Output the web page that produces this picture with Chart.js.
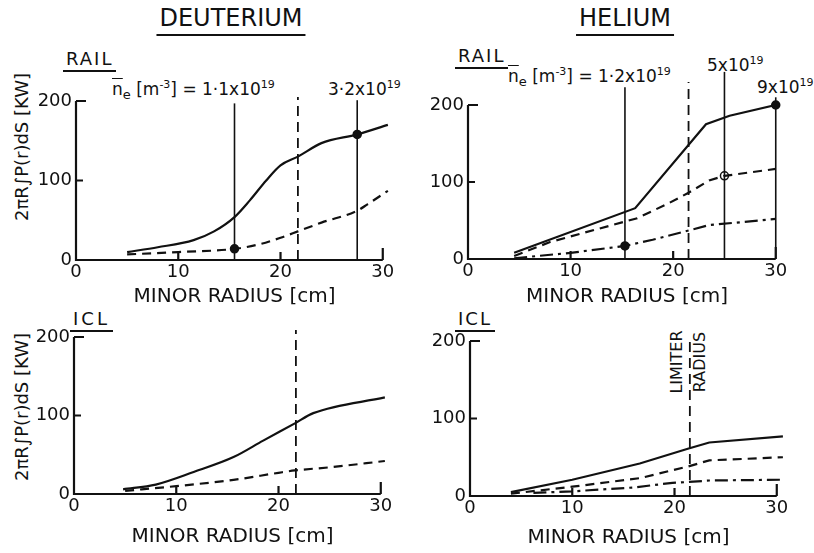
<!DOCTYPE html>
<html>
<head>
<meta charset="utf-8">
<script src="https://cdn.jsdelivr.net/npm/chart.js@4.4.1/dist/chart.umd.min.js"></script>
<style>
    body { margin: 0; background: #fff; }
    #wrap { position: relative; width: 814px; height: 553px; overflow: hidden; font-family: 'DejaVu Sans', sans-serif; color: #111; }
    #wrap canvas { position: absolute; }
    .txt { position: absolute; white-space: nowrap; line-height: 1; }
    .head { font-size: 24px; transform: translateX(-50%); border-bottom: 2px solid #111; padding: 0 3px 4px; }
    .tag { font-size: 18px; border-bottom: 2px solid #111; padding: 0 3px 2px; letter-spacing: 2px; }
    .lab { font-size: 17px; }
    .lab sup { font-size: 11px; vertical-align: 7px; }
    .ov { text-decoration: overline; }
    .ytitle { font-size: 18px; transform: translate(-50%, -50%) rotate(-90deg); }
    .lim { font-size: 16px; transform: translate(-50%, -50%) rotate(-90deg); }
</style>
</head>
<body>
<div id="wrap">
    <div class="txt head" style="left:231px;top:6px">DEUTERIUM</div>
    <div class="txt head" style="left:625px;top:6px">HELIUM</div>

    <div class="txt tag" style="left:63px;top:50px">RAIL</div>
    <div class="txt tag" style="left:455px;top:47px">RAIL</div>
    <div class="txt tag" style="left:70px;top:310px;letter-spacing:3px">ICL</div>
    <div class="txt tag" style="left:455px;top:310px;letter-spacing:2px">ICL</div>

    <div class="txt ytitle" style="left:22px;top:147px">2πR∫P(r)dS [KW]</div>
    <div class="txt ytitle" style="left:22px;top:407px">2πR∫P(r)dS [KW]</div>

    <div class="txt lab" style="left:112px;top:79px"><span class="ov">n</span><sub style="font-size:13px">e</sub> [m<sup>-3</sup>] = 1·1x10<sup>19</sup></div>
    <div class="txt lab" style="left:328px;top:79px">3·2x10<sup>19</sup></div>
    <div class="txt lab" style="left:508px;top:66px"><span class="ov">n</span><sub style="font-size:13px">e</sub> [m<sup>-3</sup>] = 1·2x10<sup>19</sup></div>
    <div class="txt lab" style="left:707px;top:55px">5x10<sup>19</sup></div>
    <div class="txt lab" style="left:757px;top:77px">9x10<sup>19</sup></div>

    <div class="txt lim" style="left:677px;top:362px">LIMITER</div>
    <div class="txt lim" style="left:700px;top:362px">RADIUS</div>

    <canvas id="c1" width="407" height="275" style="left:0;top:40px"></canvas>
    <canvas id="c2" width="414" height="275" style="left:400px;top:40px"></canvas>
    <canvas id="c3" width="407" height="253" style="left:0;top:300px"></canvas>
    <canvas id="c4" width="414" height="253" style="left:400px;top:300px"></canvas>
</div>

<script>
// Axis ticks
const xTicks = [0, 10, 20, 30];
const yTicks = [0, 100, 200];

// Deuterium, rail limiter
const dRailSolidR = [5, 8, 11.5, 13.5, 15.5, 17, 18.6, 20, 21.7, 24, 27.5, 30.5];
const dRailSolidP = [10, 16, 25, 36, 54, 75, 100, 119, 130, 147, 158, 170];
const dRailDashR = [5, 10, 15.5, 18, 20, 21.7, 24, 27.5, 28.5, 30.5];
const dRailDashP = [7, 10, 14, 20, 28, 36, 47, 62, 70, 87];
const dRailMarkR = [15.5, 27.5];
const dRailMarkP = [14, 158];
const dRailLeadTop = [197, 201];

// Helium, rail limiter
const hRailSolidR = [4.5, 16.3, 23.2, 25.5, 30];
const hRailSolidP = [8, 66, 175, 186, 200];
const hRailDashR = [4.5, 8, 16.5, 19.5, 21.5, 23.5, 25, 30];
const hRailDashP = [4, 22, 53, 72, 86, 102, 108, 117];
const hRailDotR = [4.5, 10, 15.3, 18, 21.5, 23.5, 30];
const hRailDotP = [1, 8, 17, 25, 37, 44, 52];
const hRailMarkR = [15.3, 25, 30];
const hRailMarkP = [17, 108, 200];
const hRailMarkOpen = [false, true, false];
const hRailLeadTop = [223, 243, 210];

// Deuterium, inner carbon limiter
const dIclSolidR = [4.8, 8, 11.7, 15.6, 18.5, 21.6, 23.4, 30.4];
const dIclSolidP = [6, 12, 28, 47, 68, 90, 103, 123];
const dIclDashR = [5, 10, 15.6, 20, 21.6, 25, 30.4];
const dIclDashP = [4, 10, 18, 27, 30, 34, 42];

// Helium, inner carbon limiter
const hIclSolidR = [4, 10, 16.6, 21.3, 23.4, 30.6];
const hIclSolidP = [5, 21, 42, 61, 69, 77];
const hIclDashR = [4, 10, 16.6, 21.3, 23.4, 30.6];
const hIclDashP = [3, 12, 23, 38, 46, 50];
const hIclDotR = [6.2, 10, 16, 19.8, 21.3, 23.4, 30.6];
const hIclDotP = [4, 6, 11, 17, 18, 20, 21];

// Limiter radius (vertical dashed line)
const limD = 21.7;
const limH = 21.5;
const limTop = [205, 230, 209, 201];

const ink = '#111';
const tickFont = { family: 'DejaVu Sans', size: 18 };
const titleFont = { family: 'DejaVu Sans', size: 20 };

const pts = (xs, ys) => xs.map((v, i) => ({ x: v, y: ys[i] }));

function curve(xs, ys, style, smooth) {
    const dash = style === 'dash' ? [9, 6] : style === 'dot' ? [13, 5, 3, 5] : [];
    return {
        data: pts(xs, ys),
        borderColor: ink,
        borderWidth: 2.2,
        borderDash: dash,
        pointRadius: 0,
        fill: false,
        cubicInterpolationMode: smooth ? 'monotone' : 'default'
    };
}

function vline(x, top, dash) {
    return {
        data: [{ x: x, y: 0 }, { x: x, y: top }],
        borderColor: ink,
        borderWidth: dash ? 1.8 : 1.6,
        borderDash: dash ? [10, 6] : [],
        pointRadius: 0,
        clip: false
    };
}

function markers(xs, ys, open) {
    return {
        data: pts(xs, ys),
        showLine: false,
        pointRadius: 4,
        pointBorderWidth: 1.5,
        pointBorderColor: ink,
        pointBackgroundColor: xs.map((v, i) => (open && open[i]) ? '#fff' : ink),
        clip: false
    };
}

// Draw axis lines and tick marks the way the original figure does
const axesPlugin = {
    id: 'axes',
    afterDatasetsDraw(chart) {
        const { ctx, scales: { x, y } } = chart;
        const x0 = x.getPixelForValue(xTicks[0]);
        const xEnd = x.getPixelForValue(xTicks[xTicks.length - 1]);
        const y0 = y.getPixelForValue(yTicks[0]);
        const yTop = y.getPixelForValue(yTicks[yTicks.length - 1]);
        ctx.save();
        ctx.strokeStyle = ink;
        ctx.lineWidth = 2.2;
        ctx.beginPath();
        ctx.moveTo(x0, yTop);
        ctx.lineTo(x0, y0);
        ctx.lineTo(xEnd, y0);
        yTicks.slice(1).forEach((v, i) => {
            const p = y.getPixelForValue(v);
            ctx.moveTo(x0, p);
            ctx.lineTo(x0 + (i === yTicks.length - 2 ? 10 : 7), p);
        });
        xTicks.slice(1).forEach((v, i) => {
            const p = x.getPixelForValue(v);
            ctx.moveTo(p, y0);
            ctx.lineTo(p, y0 - (i === xTicks.length - 2 ? 12 : 8));
        });
        ctx.stroke();
        ctx.restore();
    }
};

function makeChart(id, datasets, g) {
    return new Chart(document.getElementById(id), {
        type: 'line',
        data: { datasets: datasets },
        options: {
            responsive: false,
            animation: false,
            devicePixelRatio: 1,
            events: [],
            layout: { padding: { top: g.top, right: g.right, left: 0, bottom: 0 } },
            plugins: { legend: { display: false }, tooltip: { enabled: false } },
            scales: {
                x: {
                    type: 'linear',
                    min: 0,
                    max: 31,
                    afterBuildTicks: s => { s.ticks = xTicks.map(v => ({ value: v })); },
                    afterFit: s => { s.height = g.xh; },
                    grid: { display: false, drawTicks: false },
                    border: { display: false },
                    ticks: { font: tickFont, color: ink, padding: 2, maxRotation: 0, autoSkip: false },
                    title: { display: true, text: 'MINOR RADIUS [cm]', font: titleFont, color: ink, padding: { top: 0, bottom: g.tb } }
                },
                y: {
                    type: 'linear',
                    min: 0,
                    max: 200,
                    afterBuildTicks: s => { s.ticks = yTicks.map(v => ({ value: v })); },
                    afterFit: s => { s.width = g.yw; },
                    grid: { display: false, drawTicks: false },
                    border: { display: false },
                    ticks: { font: tickFont, color: ink, padding: 4 }
                }
            }
        },
        plugins: [axesPlugin]
    });
}

// Top left: deuterium, rail
makeChart('c1', [
    curve(dRailSolidR, dRailSolidP, 'solid', true),
    curve(dRailDashR, dRailDashP, 'dash', true),
    vline(limD, limTop[0], true),
    ...dRailMarkR.map((r, i) => vline(r, dRailLeadTop[i], false)),
    markers(dRailMarkR, dRailMarkP)
], { yw: 76, xh: 55, top: 61, right: 14, tb: 6 });

// Top right: helium, rail
makeChart('c2', [
    curve(hRailSolidR, hRailSolidP, 'solid', false),
    curve(hRailDashR, hRailDashP, 'dash', false),
    curve(hRailDotR, hRailDotP, 'dot', false),
    vline(limH, limTop[1], true),
    ...hRailMarkR.map((r, i) => vline(r, hRailLeadTop[i], false)),
    markers(hRailMarkR, hRailMarkP, hRailMarkOpen)
], { yw: 68, xh: 56, top: 65, right: 28, tb: 6 });

// Bottom left: deuterium, ICL
makeChart('c3', [
    curve(dIclSolidR, dIclSolidP, 'solid', true),
    curve(dIclDashR, dIclDashP, 'dash', true),
    vline(limD, limTop[2], true)
], { yw: 74, xh: 59, top: 37, right: 16, tb: 4 });

// Bottom right: helium, ICL
makeChart('c4', [
    curve(hIclSolidR, hIclSolidP, 'solid', false),
    curve(hIclDashR, hIclDashP, 'dash', false),
    curve(hIclDotR, hIclDotP, 'dot', false),
    vline(limH, limTop[3], true)
], { yw: 70, xh: 57, top: 41, right: 27, tb: 3 });
</script>
</body>
</html>
